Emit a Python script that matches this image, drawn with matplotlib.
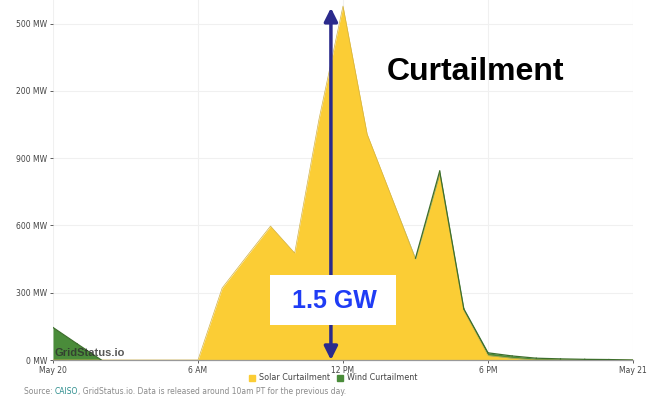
import matplotlib
matplotlib.use("Agg")
import matplotlib.pyplot as plt
import numpy as np
from matplotlib.patches import Rectangle
from matplotlib.offsetbox import TextArea, HPacker, AnchoredOffsetbox

# hourly curtailment on May 20, MW (hour 0 = midnight, 24 = May 21)
hours = np.arange(25)
solar_mw = [0, 0, 0, 0, 0, 0, 0, 321, 460, 597, 477, 1070, 1578, 1007, 730,
            450, 830, 220, 20, 8, 0, 0, 0, 0, 0]
wind_mw = [145, 72, 0, 0, 0, 0, 0, 0, 0, 0, 0, 0, 0, 0, 0,
           4, 12, 8, 12, 10, 8, 5, 3, 2, 0]

y_ticks = [0, 300, 600, 900, 1200, 1500]
y_labels = ["0 MW", "300 MW", "600 MW", "900 MW", "200 MW", "500 MW"]
x_ticks = [0, 6, 12, 18, 24]
x_labels = ["May 20", "6 AM", "12 PM", "6 PM", "May 21"]

SOLAR = "#fbcd35"
WIND = "#4a8c3a"
NAVY = "#2b2a8c"
W, H = 648, 397

fig = plt.figure(figsize=(W / 100, H / 100), dpi=100)
ax = fig.add_axes([53 / W, 37 / H, 580 / W, 360 / H])

solar = np.array(solar_mw, dtype=float)
wind = np.array(wind_mw, dtype=float)
total = solar + wind
ax.fill_between(hours, 0, solar, color=SOLAR, lw=0, zorder=2)
ax.fill_between(hours, solar, total, color=WIND, lw=0, zorder=2)
ax.plot(hours, solar, color="#d2b245", lw=0.5, zorder=3)
# outline the wind layer only from hours that have some wind
for i in range(len(hours) - 1):
    if wind[i] > 0:
        ax.plot(hours[i:i + 2], total[i:i + 2], color="#3d6e2c", lw=0.9, zorder=3)

ax.set_xlim(0, 24)
ax.set_ylim(0, 1605)
ax.set_xticks(x_ticks)
ax.set_xticklabels(x_labels)
ax.set_yticks(y_ticks)
ax.set_yticklabels(y_labels)
ax.tick_params(labelsize=5.5, colors="#444444", length=2.5, width=0.6, pad=1.5)
ax.grid(True, color="#f0f0f0", lw=0.8, zorder=0)
for side in ["top", "right", "left"]:
    ax.spines[side].set_visible(False)
ax.spines["bottom"].set_color("#999999")
ax.spines["bottom"].set_linewidth(0.9)
ax.set_axisbelow(True)

ax.text(0.05, 18, "GridStatus.io", fontsize=8, fontweight="bold",
        color="#2e2e2e", alpha=0.8, family="Liberation Sans", zorder=4)

# double arrow marking the midday peak
ax.annotate("", xy=(11.5, 1570), xytext=(11.5, 0),
            arrowprops=dict(arrowstyle="<|-|>", color=NAVY, lw=2.5,
                            mutation_scale=20, shrinkA=0, shrinkB=0),
            zorder=6)

fig.add_artist(Rectangle((270 / W, 1 - 325 / H), 126 / W, 50 / H,
                         transform=fig.transFigure, facecolor="white",
                         edgecolor="none", zorder=7))
fig.text(334 / W, 1 - 301 / H, "1.5 GW", ha="center", va="center",
         fontsize=18, fontweight="bold", color="#1f3cf5",
         family="Liberation Sans", zorder=8)
fig.text(476 / W, 1 - 72 / H, "Curtailment", ha="center", va="center",
         fontsize=23, fontweight="bold", color="black",
         family="Liberation Sans", zorder=8)

handles = [Rectangle((0, 0), 1, 1, color=SOLAR), Rectangle((0, 0), 1, 1, color=WIND)]
fig.legend(handles, ["Solar Curtailment", "Wind Curtailment"], loc="center",
           bbox_to_anchor=(333 / W, 1 - 378 / H), ncol=2, frameon=False,
           fontsize=5.8, handlelength=0.8, handleheight=0.8,
           handletextpad=0.5, columnspacing=0.8, labelcolor="#444444")

gray = dict(color="#8a8a8a", fontsize=5.5)
parts = [TextArea("Source: ", textprops=gray),
         TextArea("CAISO", textprops=dict(color="#2b8c8c", fontsize=5.5)),
         TextArea(", GridStatus.io. Data is released around 10am PT for the previous day.",
                  textprops=gray)]
box = HPacker(children=parts, align="baseline", pad=0, sep=0)
anchored = AnchoredOffsetbox(loc="center left", child=box, pad=0, frameon=False,
                             bbox_to_anchor=(24 / W, 1 - 391 / H),
                             bbox_transform=fig.transFigure, borderpad=0)
fig.add_artist(anchored)

fig.savefig("out.png", dpi=100)
